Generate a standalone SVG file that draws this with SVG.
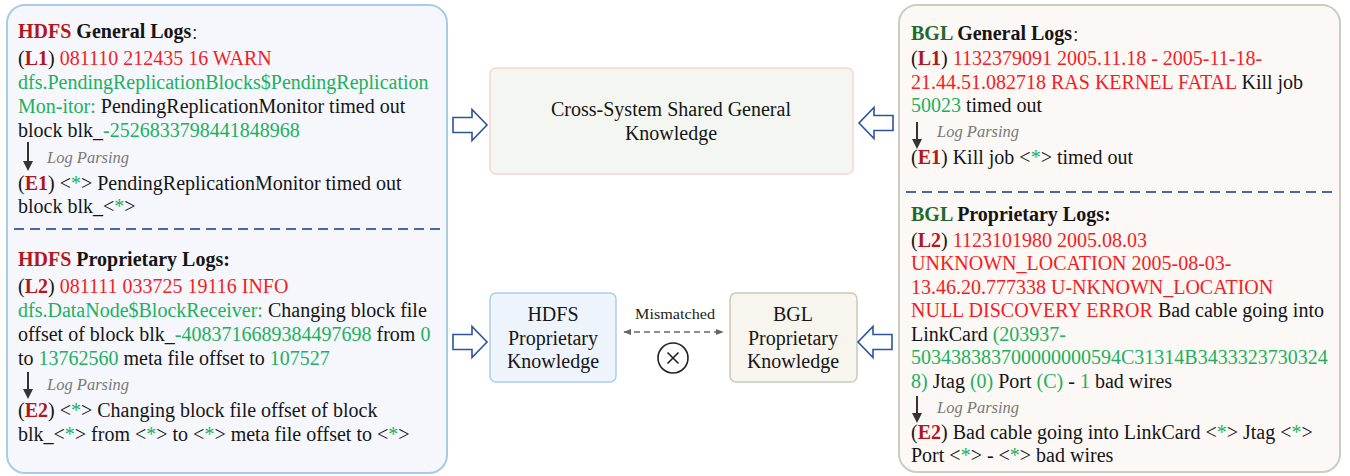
<svg xmlns="http://www.w3.org/2000/svg" xmlns:xlink="http://www.w3.org/1999/xlink" width="1350" height="476" viewBox="0 0 1350 476">
<style>
.t{font-family:"Liberation Serif","Noto Sans CJK SC",serif;font-size:20px;fill:#151515}
.b{font-weight:bold}
.dr{fill:#b3161b;font-weight:bold}
.r{fill:#f41d24}
.g{fill:#21b060}
.bg{fill:#1e6a2f;font-weight:bold}
.lp{font-family:"Liberation Serif",serif;font-style:italic;font-size:16.5px;fill:#7a7a7a}
.c{text-anchor:middle}
.down{stroke:#333;stroke-width:2}
.harrow{fill:#fff;stroke:#2c53a0;stroke-width:1.6;stroke-linejoin:miter}
.sep{stroke:#4a69a3;stroke-width:2;stroke-dasharray:10 6}
</style>
<defs>
<path id="ha" d="M0,-7.5 H19 V-15.5 L34,0 L19,15.5 V7.5 H0 Z"/>
<marker id="dh" viewBox="0 0 10 10" refX="9" refY="5" markerWidth="8" markerHeight="8" markerUnits="userSpaceOnUse" orient="auto-start-reverse">
<path d="M0,1 L10,5 L0,9 Z" fill="#666"/>
</marker>
<marker id="ah" viewBox="0 0 10 10" refX="5" refY="9" markerWidth="10" markerHeight="10" markerUnits="userSpaceOnUse" orient="auto">
<path d="M0,0 L10,0 L5,10 Z" fill="#333" transform="rotate(-90 5 5)"/>
</marker>
</defs>

<rect width="1350" height="476" fill="#fff"/>

<g id="panel-hdfs">
<rect x="7" y="5" width="440" height="468" rx="18" fill="#f5f7fc" stroke="#a9cbe8" stroke-width="2"/>
<text class="t" x="18" y="38"><tspan class="dr">HDFS</tspan><tspan class="b"> General Logs</tspan><tspan font-size="14">：</tspan></text>
<text class="t" x="18" y="65">(<tspan class="dr">L1</tspan>) <tspan class="r">081110 212435 16 WARN</tspan></text>
<text class="t" x="18" y="89"><tspan class="g">dfs.PendingReplicationBlocks$PendingReplication</tspan></text>
<text class="t" x="18" y="113"><tspan class="g">Mon-itor:</tspan> PendingReplicationMonitor timed out</text>
<text class="t" x="18" y="137">block blk_<tspan class="g">-2526833798441848968</tspan></text>
<line class="down" x1="28" y1="142" x2="28" y2="162"/>
<path d="M23,161 L33,161 L28,171 Z" fill="#333"/>
<text class="lp" x="47" y="163">Log Parsing</text>
<text class="t" x="18" y="190">(<tspan class="dr">E1</tspan>) &lt;<tspan class="g">*</tspan>&gt; PendingReplicationMonitor timed out</text>
<text class="t" x="18" y="213">block blk_&lt;<tspan class="g">*</tspan>&gt;</text>
<line class="sep" x1="14" y1="229" x2="442" y2="229"/>
<text class="t" x="18" y="266"><tspan class="dr">HDFS</tspan><tspan class="b"> Proprietary Logs:</tspan></text>
<text class="t" x="18" y="293">(<tspan class="dr">L2</tspan>) <tspan class="r">081111 033725 19116 INFO</tspan></text>
<text class="t" x="18" y="317"><tspan class="g">dfs.DataNode$BlockReceiver:</tspan> Changing block file</text>
<text class="t" x="18" y="341">offset of block blk_<tspan class="g">-4083716689384497698</tspan> from <tspan class="g">0</tspan></text>
<text class="t" x="18" y="365">to <tspan class="g">13762560</tspan> meta file offset to <tspan class="g">107527</tspan></text>
<line class="down" x1="28" y1="372" x2="28" y2="390"/>
<path d="M23,389 L33,389 L28,399 Z" fill="#333"/>
<text class="lp" x="47" y="390">Log Parsing</text>
<text class="t" x="18" y="417">(<tspan class="dr">E2</tspan>) &lt;<tspan class="g">*</tspan>&gt; Changing block file offset of block</text>
<text class="t" x="18" y="441">blk_&lt;<tspan class="g">*</tspan>&gt; from &lt;<tspan class="g">*</tspan>&gt; to &lt;<tspan class="g">*</tspan>&gt; meta file offset to &lt;<tspan class="g">*</tspan>&gt;</text>
</g>

<g id="panel-bgl">
<rect x="899" y="5" width="441" height="467" rx="18" fill="#fcf8f5" stroke="#c8cfc0" stroke-width="2"/>
<text class="t" x="911" y="40"><tspan class="bg">BGL</tspan><tspan class="b"> General Logs</tspan><tspan font-size="14">：</tspan></text>
<text class="t" x="911" y="65">(<tspan class="dr">L1</tspan>) <tspan class="r">1132379091 2005.11.18 - 2005-11-18-</tspan></text>
<text class="t" x="911" y="89"><tspan class="r">21.44.51.082718 RAS KERNEL FATAL</tspan> Kill job</text>
<text class="t" x="911" y="112"><tspan class="g">50023</tspan> timed out</text>
<line class="down" x1="917" y1="122" x2="917" y2="140"/>
<path d="M912,139 L922,139 L917,149 Z" fill="#333"/>
<text class="lp" x="937" y="137">Log Parsing</text>
<text class="t" x="911" y="164">(<tspan class="dr">E1</tspan>) Kill job &lt;<tspan class="g">*</tspan>&gt; timed out</text>
<line class="sep" x1="906" y1="192" x2="1336" y2="192"/>
<text class="t" x="911" y="221"><tspan class="bg">BGL</tspan><tspan class="b"> Proprietary Logs:</tspan></text>
<text class="t" x="911" y="247">(<tspan class="dr">L2</tspan>) <tspan class="r">1123101980 2005.08.03</tspan></text>
<text class="t" x="911" y="270"><tspan class="r">UNKNOWN_LOCATION 2005-08-03-</tspan></text>
<text class="t" x="911" y="294"><tspan class="r">13.46.20.777338 U-NKNOWN_LOCATION</tspan></text>
<text class="t" x="911" y="317"><tspan class="r">NULL DISCOVERY ERROR</tspan> Bad cable going into</text>
<text class="t" x="911" y="341">LinkCard <tspan class="g">(203937-</tspan></text>
<text class="t" x="911" y="364"><tspan class="g">503438383700000000594C31314B3433323730324</tspan></text>
<text class="t" x="911" y="388"><tspan class="g">8)</tspan> Jtag <tspan class="g">(0)</tspan> Port <tspan class="g">(C)</tspan> - <tspan class="g">1</tspan> bad wires</text>
<line class="down" x1="917" y1="396" x2="917" y2="414"/>
<path d="M912,413 L922,413 L917,423 Z" fill="#333"/>
<text class="lp" x="937" y="413">Log Parsing</text>
<text class="t" x="911" y="439">(<tspan class="dr">E2</tspan>) Bad cable going into LinkCard &lt;<tspan class="g">*</tspan>&gt; Jtag &lt;<tspan class="g">*</tspan>&gt;</text>
<text class="t" x="911" y="462">Port &lt;<tspan class="g">*</tspan>&gt; - &lt;<tspan class="g">*</tspan>&gt; bad wires</text>
</g>

<g id="node-shared">
<rect x="490" y="68" width="363" height="106" rx="6" fill="#f4f7f1" stroke="#f7d3d3" stroke-width="1.5"/>
<text class="t c" x="671" y="116">Cross-System Shared General</text>
<text class="t c" x="671" y="140">Knowledge</text>
</g>

<g id="node-hdfs-prop">
<rect x="490" y="293" width="126" height="89" rx="6" fill="#eef4fb" stroke="#a9cdeb" stroke-width="1.5"/>
<text class="t c" x="553" y="321">HDFS</text>
<text class="t c" x="553" y="345">Proprietary</text>
<text class="t c" x="553" y="368">Knowledge</text>
</g>

<g id="node-bgl-prop">
<rect x="730" y="293" width="127" height="89" rx="6" fill="#f8f5ef" stroke="#c6ccb9" stroke-width="1.5"/>
<text class="t c" x="793" y="321">BGL</text>
<text class="t c" x="793" y="345">Proprietary</text>
<text class="t c" x="793" y="368">Knowledge</text>
</g>

<g id="connectors">
<use xlink:href="#ha" class="harrow" transform="translate(453,125)"/>
<use xlink:href="#ha" class="harrow" transform="translate(893,123) scale(-1,1)"/>
<use xlink:href="#ha" class="harrow" transform="translate(453,342)"/>
<use xlink:href="#ha" class="harrow" transform="translate(892,342) scale(-1,1)"/>
<line x1="624" y1="332" x2="723" y2="332" stroke="#666" stroke-width="1.6" stroke-dasharray="6 4" marker-start="url(#dh)" marker-end="url(#dh)"/>
<text x="675" y="319" font-family="Liberation Serif, serif" font-size="14.5" fill="#222" text-anchor="middle" textLength="80" lengthAdjust="spacingAndGlyphs">Mismatched</text>
<circle cx="673" cy="358" r="15" fill="none" stroke="#222" stroke-width="1.6"/>
<path d="M667.5,352.5 L678.5,363.5 M678.5,352.5 L667.5,363.5" stroke="#222" stroke-width="1.6"/>
</g>
</svg>
